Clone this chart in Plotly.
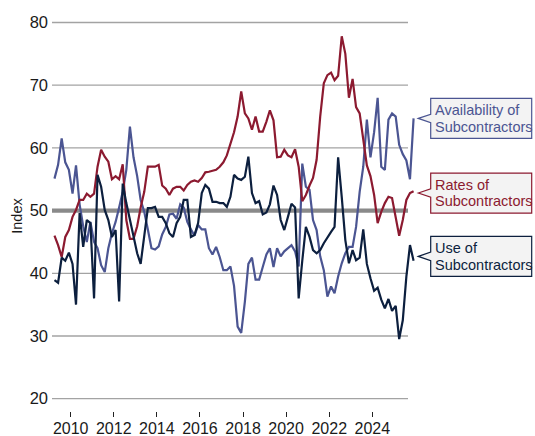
import pandas as pd
import plotly.graph_objects as go

# ---- data (bi-monthly readings, Apr 2009 .. Dec 2025) ----
dates = pd.date_range("2009-04-01", periods=101, freq="2MS")

availability = [
    55.1, 57.3, 61.5, 57.7, 56.5, 52.7, 57.2, 51.0, 47.5, 45.0,
    48.2, 45.0, 44.0, 41.3, 40.2, 44.0, 46.4, 48.2, 50.5, 53.0,
    56.5, 63.4, 58.5, 55.5, 51.7, 49.8, 47.0, 44.0, 43.8, 44.3,
    46.2, 47.4, 49.4, 49.5, 48.7, 51.0, 50.5, 48.2, 47.0, 46.0,
    47.7, 47.0, 47.0, 44.0, 43.0, 44.2, 42.6, 40.5, 40.5, 41.1,
    38.0, 31.5, 30.5, 35.5, 41.5, 42.5, 39.0, 39.0, 41.0, 43.0,
    44.0, 41.0, 44.0, 42.7, 43.5, 44.0, 44.5, 43.5, 41.1, 57.5,
    53.8, 53.3, 48.5, 46.9, 42.7, 40.5, 36.3, 37.9, 36.8, 39.5,
    41.6, 43.2, 44.2, 44.2, 47.4, 53.0, 57.0, 64.5, 58.5, 62.5,
    68.0, 57.0, 56.5, 64.5, 65.5, 65.0, 60.5, 59.0, 58.0, 55.0,
    64.7,
]

rates = [
    46.0, 44.5, 42.6, 45.8, 46.9, 49.0, 50.1, 51.7, 51.7, 52.7,
    52.2, 52.7, 57.0, 59.7, 58.6, 57.8, 55.0, 55.5, 55.0, 57.4,
    48.5, 45.5, 45.5, 47.5, 50.5, 53.0, 57.0, 57.0, 57.0, 57.3,
    54.0, 53.5, 52.5, 53.5, 53.8, 53.8, 53.2, 54.1, 54.6, 54.8,
    54.6, 55.2, 56.1, 56.2, 56.3, 56.5, 57.0, 57.7, 58.8, 60.5,
    62.5, 65.0, 69.0, 65.5, 64.7, 62.9, 65.0, 62.6, 62.6, 64.2,
    66.0, 64.4, 58.5, 58.6, 59.7, 58.8, 58.5, 59.8, 57.0, 51.5,
    52.5, 54.0, 55.2, 58.1, 65.0, 70.3, 71.6, 72.0, 70.8, 71.5,
    77.8, 75.0, 68.0, 71.0, 66.5, 65.5, 61.5, 57.2, 55.5, 52.5,
    48.0, 49.8, 51.2, 52.2, 52.0, 48.8, 46.0, 48.5, 51.7, 52.8,
    53.1,
]

use = [
    38.9, 38.5, 42.5, 42.0, 43.3, 41.5, 35.0, 49.6, 44.2, 48.5,
    48.0, 36.0, 55.7, 53.8, 50.1, 48.5, 45.8, 46.9, 35.5, 54.3,
    51.2, 48.5, 45.8, 43.2, 41.5, 46.0, 50.4, 50.4, 50.6, 49.0,
    49.0, 48.0, 46.4, 45.8, 48.0, 49.0, 51.7, 51.7, 45.8, 46.1,
    48.0, 52.8, 54.1, 53.5, 51.4, 51.4, 51.2, 51.2, 50.6, 52.2,
    55.7, 55.1, 54.9, 55.4, 58.6, 52.8, 51.2, 51.5, 49.4, 49.7,
    51.0, 54.0, 52.5, 48.5, 46.9, 49.0, 51.1, 50.5, 36.0, 42.0,
    47.4, 45.8, 43.7, 43.2, 43.7, 44.8, 45.6, 46.6, 47.4, 58.5,
    52.2, 45.3, 41.6, 43.7, 42.1, 42.5, 47.0, 41.5, 39.2, 37.2,
    37.7, 35.8, 34.4, 35.9, 34.0, 34.8, 29.5, 32.5, 39.5, 44.5,
    42.0,
]

series_names = ["Availability of Subcontractors", "Rates of Subcontractors",
                "Use of Subcontractors"]
label_lines = [("Availability of", "Subcontractors"), ("Rates of", "Subcontractors"),
               ("Use of", "Subcontractors")]
colors = ["#4b5592", "#8c1a30", "#0c1f3e"]
label_centers = [64.7, 52.8, 42.7]   # vertical position of callout boxes (index units)

year_ticks = list(range(2010, 2025, 2))
y_ticks = [20, 30, 40, 50, 60, 70, 80]

# ---- figure ----
fig = go.Figure()
for vals, name, col in zip([availability, rates, use], series_names, colors):
    fig.add_trace(go.Scatter(x=dates, y=vals, mode="lines", name=name,
                             line=dict(color=col, width=2.2), showlegend=False,
                             hoverinfo="skip"))

W, H = 535, 436
ml, mr, mt, mb = 52, 117, 21, 25
pw = W - ml - mr
px_per_unit = 6.27
y_top = 80.24
y_bot = y_top - (H - mt - mb) / px_per_unit


def px2paper_x(px):
    return (px - ml) / pw


shapes = []
grid_end = px2paper_x(408)
for v in y_ticks:
    thick = (v == 50)
    shapes.append(dict(type="line", xref="paper", yref="y", x0=0, x1=grid_end, y0=v, y1=v,
                       line=dict(color="#8a8a8a" if thick else "#a3a3a3",
                                 width=4.3 if thick else 1.3),
                       layer="below"))

box_l, box_r, tip_x = px2paper_x(430.7), px2paper_x(531.7), px2paper_x(418.3)
half_h = 20 / px_per_unit
notch = 4.2 / px_per_unit
annotations = []
for c, col, (l1, l2) in zip(label_centers, colors, label_lines):
    path = (f"M {tip_x},{c} L {box_l},{c + notch} L {box_l},{c + half_h} "
            f"L {box_r},{c + half_h} L {box_r},{c - half_h} L {box_l},{c - half_h} "
            f"L {box_l},{c - notch} Z")
    shapes.append(dict(type="path", xref="paper", yref="y", path=path,
                       fillcolor="#f3f3f3", line=dict(color=col, width=1.2), layer="above"))
    for txt, shift in ((l1, 8.4), (l2, -8.4)):
        annotations.append(dict(xref="paper", yref="y", x=px2paper_x(433), y=c, yshift=shift,
                                text=txt, showarrow=False, xanchor="left", yanchor="middle",
                                font=dict(size=14.5, color=col)))

fig.update_layout(
    width=W, height=H,
    margin=dict(l=ml, r=mr, t=mt, b=mb, autoexpand=False),
    paper_bgcolor="white", plot_bgcolor="white",
    font=dict(family="Liberation Sans, Arial, sans-serif", color="#1a1a1a"),
    shapes=shapes, annotations=annotations,
    xaxis=dict(type="date", range=["2009-02-18", "2026-02-14"], automargin=False,
               tickvals=[pd.Timestamp(f"{y}-01-01") for y in year_ticks],
               ticktext=[str(y) for y in year_ticks],
               ticks="outside", ticklen=5, tickwidth=1, tickcolor="#222",
               ticklabelstandoff=-2,
               showgrid=False, zeroline=False, showline=False,
               tickfont=dict(size=16)),
    yaxis=dict(range=[y_bot, y_top], tickvals=y_ticks, ticktext=[str(v) for v in y_ticks],
               automargin=False, ticklabelstandoff=3,
               showgrid=False, zeroline=False, showline=False, ticks="",
               tickfont=dict(size=16.5),
               title=dict(text="Index", font=dict(size=14.5), standoff=3)),
)

fig.write_html("out.html", config={"displayModeBar": False},
               post_script="document.body.style.margin='0';document.body.style.overflow='hidden';")
